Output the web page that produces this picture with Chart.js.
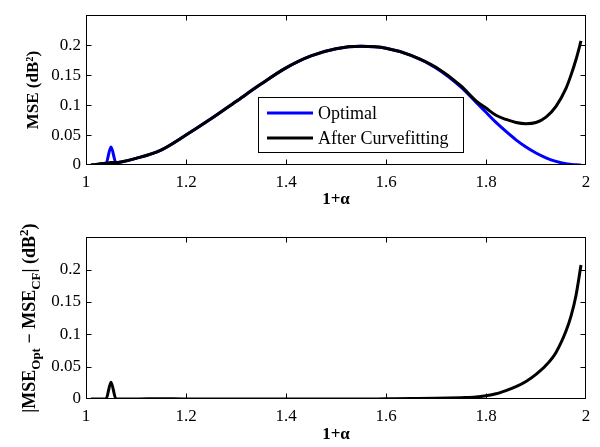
<!DOCTYPE html>
<html><head><meta charset="utf-8">
<script src="https://cdn.jsdelivr.net/npm/chart.js@4/dist/chart.umd.min.js"></script>
<style>
html,body{margin:0;padding:0;background:#fff;width:600px;height:447px;overflow:hidden}
.wrap{position:absolute;left:0;width:600px}
</style></head><body>
<div class="wrap" style="top:0;height:222px"><canvas id="c1" width="600" height="222"></canvas></div>
<div class="wrap" style="top:222px;height:225px"><canvas id="c2" width="600" height="225"></canvas></div>
<script>
// ---- data ----
const alpha = [1.01,1.02,1.03,1.04,1.05,1.06,1.07,1.10,1.15,1.20,1.25,1.30,1.35,1.40,1.45,1.50,1.55,1.60,1.65,1.70,1.75,1.78,1.80,1.82,1.84,1.86,1.88,1.90,1.92,1.94,1.96,1.97,1.98,1.99];
const mseOptimal = [0,0.001,0.002,0.003,0.030,0.004,0.005,0.011,0.025,0.050,0.077,0.106,0.135,0.162,0.182,0.194,0.198,0.195,0.183,0.162,0.130,0.105,0.088,0.071,0.056,0.042,0.030,0.020,0.012,0.006,0.002,0.001,0.0003,0];
const mseCurvefit = [0,0.001,0.002,0.003,0.004,0.004,0.005,0.011,0.025,0.050,0.077,0.106,0.135,0.162,0.182,0.194,0.198,0.195,0.183,0.163,0.132,0.107,0.095,0.083,0.076,0.071,0.069,0.071,0.080,0.098,0.128,0.150,0.176,0.207];
const mseDiff = [0,0,0,0,0.026,0,0,0,0.0005,0,0,0,0,0,0,0,0,0.0003,0.0006,0.001,0.002,0.003,0.005,0.008,0.013,0.019,0.027,0.038,0.052,0.072,0.105,0.128,0.160,0.207];
const seriesNames = ['Optimal','After Curvefitting'];
const xTicks = [1,1.2,1.4,1.6,1.8,2];
const yTicks = [0,0.05,0.1,0.15,0.2];
const xTitle = '1+\u03B1';
const yTitleTop = 'MSE (dB\u00B2)';
const yTitleBottom = [['|MSE','n'],['Opt','sub'],[' \u2212 MSE','n'],['CF','sub'],['| (dB','n'],['2','sup'],[')','n']];

const SERIF = '"Liberation Serif","Times New Roman",serif';
const pts = (ys) => alpha.map((a,i)=>({x:a,y:ys[i]}));

const boxPlugin = {
  id:'box',
  afterDatasetsDraw(chart){
    const {ctx, chartArea:a, scales} = chart;
    ctx.save();
    ctx.strokeStyle='#000'; ctx.lineWidth=1;
    const L=Math.round(a.left)+0.5, R=Math.round(a.right)-0.5, T=Math.round(a.top)+0.5, B=Math.round(a.bottom)-0.5;
    ctx.beginPath();
    xTicks.forEach(v=>{
      if(v<=1||v>=2) return;
      const px=Math.round(scales.x.getPixelForValue(v))+0.5;
      ctx.moveTo(px,B); ctx.lineTo(px,B-5);
      ctx.moveTo(px,T); ctx.lineTo(px,T+5);
    });
    yTicks.forEach(v=>{
      if(v<=0) return;
      const py=Math.round(scales.y.getPixelForValue(v))+0.5;
      ctx.moveTo(L,py); ctx.lineTo(L+5,py);
      ctx.moveTo(R,py); ctx.lineTo(R-5,py);
    });
    ctx.stroke();
    ctx.strokeRect(L,T,R-L,B-T);
    ctx.restore();
  }
};

const legendPlugin = {
  id:'mylegend',
  afterDatasetsDraw(chart, args, opts){
    if(!opts.show) return;
    const {ctx} = chart;
    ctx.save();
    const x0=258, y0=97, w=205, h=55;
    ctx.fillStyle='#fff'; ctx.fillRect(x0,y0,w,h);
    ctx.strokeStyle='#000'; ctx.lineWidth=1; ctx.strokeRect(x0+0.5,y0+0.5,w,h);
    ctx.font='18px '+SERIF; ctx.textBaseline='middle'; ctx.textAlign='left';
    chart.data.datasets.forEach((ds,i)=>{
      const yy = y0 + 16 + i*25;
      ctx.strokeStyle=ds.borderColor; ctx.lineWidth=3;
      ctx.beginPath(); ctx.moveTo(267,yy); ctx.lineTo(313,yy); ctx.stroke();
      ctx.fillStyle='#000'; ctx.fillText(ds.label,318,yy+1);
    });
    ctx.restore();
  }
};

const ytitlePlugin = {
  id:'ytitle',
  afterDraw(chart, args, opts){
    if(!opts.parts) return;
    const {ctx, chartArea:a} = chart;
    ctx.save();
    const big='bold 18px '+SERIF, small='bold 13px '+SERIF;
    let total=0;
    opts.parts.forEach(([t,k])=>{ctx.font = k==='n'?big:small; total+=ctx.measureText(t).width;});
    ctx.translate(opts.x,(a.top+a.bottom)/2);
    ctx.rotate(-Math.PI/2);
    ctx.fillStyle='#000'; ctx.textBaseline='alphabetic'; ctx.textAlign='left';
    let x=-total/2;
    opts.parts.forEach(([t,k])=>{
      ctx.font = k==='n'?big:small;
      const dy = k==='sub'?5:(k==='sup'?-7:0);
      ctx.fillText(t,x,5+dy);
      x+=ctx.measureText(t).width;
    });
    ctx.restore();
  }
};

function makeChart(id, datasets, opts){
  return new Chart(document.getElementById(id), {
    type:'line',
    data:{datasets},
    options:{
      responsive:false, animation:false,
      layout:{padding:{top:opts.padTop,right:14,left:0,bottom:0}},
      plugins:{legend:{display:false}, tooltip:{enabled:false},
        mylegend:{show:opts.legend}, ytitle:{parts:opts.yParts||null, x:30}},
      elements:{point:{radius:0}, line:{borderWidth:3, cubicInterpolationMode:'monotone'}},
      scales:{
        x:{type:'linear', min:1, max:2,
          afterFit:(s)=>{s.height=opts.xHeight;},
          afterBuildTicks:(s)=>{s.ticks=xTicks.map(v=>({value:v}));},
          grid:{display:false, drawTicks:false}, border:{display:false},
          ticks:{padding:7, color:'#000', font:{family:SERIF,size:17}, callback:(v)=>String(v)},
          title:{display:true, text:xTitle, color:'#000', font:{family:SERIF,size:17,weight:'bold'}, padding:{top:0,bottom:opts.xTitlePad}}
        },
        y:{min:0, max:0.25,
          afterFit:(s)=>{s.width=86;},
          afterBuildTicks:(s)=>{s.ticks=yTicks.map(v=>({value:v}));},
          grid:{display:false, drawTicks:false}, border:{display:false},
          ticks:{padding:5, color:'#000', font:{family:SERIF,size:17}, callback:(v)=>String(Number(v.toFixed(2)))},
          title:{display:!!opts.yTitle, text:opts.yTitle||'', color:'#000', font:{family:SERIF,size:17,weight:'bold'}, padding:{top:23,bottom:0}}
        }
      }
    },
    plugins:[boxPlugin, legendPlugin, ytitlePlugin]
  });
}

makeChart('c1', [
  {label:seriesNames[0], data:pts(mseOptimal), borderColor:'#0000ff', order:2},
  {label:seriesNames[1], data:pts(mseCurvefit), borderColor:'#000000', order:1}
], {padTop:5, xHeight:57, xTitlePad:12, legend:true, yTitle:yTitleTop});

makeChart('c2', [
  {label:'|MSE Opt - MSE CF|', data:pts(mseDiff), borderColor:'#000000'}
], {padTop:13, xHeight:48, xTitlePad:2, legend:false, yParts:yTitleBottom});
</script>
</body></html>
